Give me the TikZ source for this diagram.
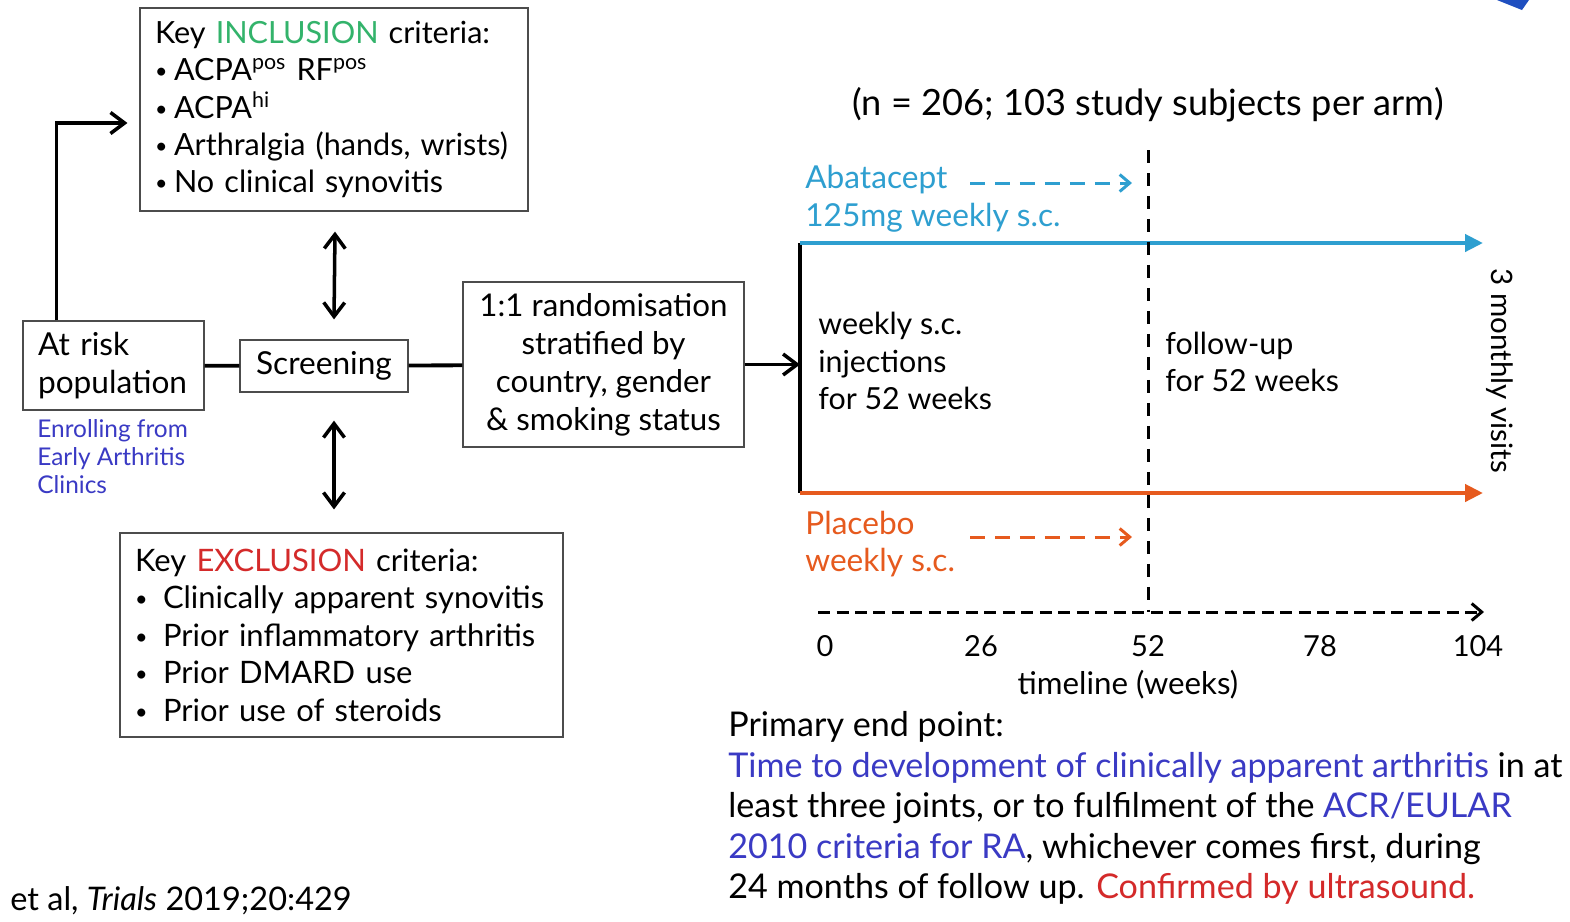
\documentclass[tikz,border=0pt]{standalone}
\usepackage{fontspec}
\setmainfont{Lato}
\usetikzlibrary{arrows.meta}
\definecolor{inclgreen}{HTML}{33B36B}
\definecolor{exclred}{HTML}{D42A2A}
\definecolor{enrolblue}{HTML}{3A3AC4}
\definecolor{abatblue}{HTML}{2E9FD0}
\definecolor{placorange}{HTML}{E65A1E}
\definecolor{logoblue}{HTML}{1F4FC0}
\newcommand{\smallbullet}{\raisebox{0.12ex}{\scalebox{0.7}{\textbullet}}}
\newcommand{\incitem}[1]{\makebox[0.38cm][l]{\smallbullet}#1}
\newcommand{\excitem}[1]{\makebox[0.56cm][l]{\smallbullet}#1}

\begin{document}
\begin{tikzpicture}[x=0.02cm,y=-0.02cm,
	box/.style={draw=black!70,line width=0.7pt,inner ysep=0pt,inner xsep=0.3cm},
	flow/.style={line width=2pt,-{Straight Barb[length=0.28cm,width=0.42cm]}},
	link/.style={line width=2.2pt},
	twoway/.style={line width=2pt,{Straight Barb[length=0.28cm,width=0.42cm]}-{Straight Barb[length=0.28cm,width=0.42cm]}},
	arm/.style={line width=2.4pt,-{Triangle[length=0.36cm,width=0.34cm]}},
	dasharrow/.style={line width=1.7pt,dash pattern=on 0.3cm off 0.2cm,-{Straight Barb[length=0.2cm,width=0.34cm]}},
	txt/.style={inner sep=0pt,font=\fontsize{17.5}{21.5}\selectfont}]
	\useasboundingbox (0,0) rectangle (1570,921);
	\fill[white] (0,0) rectangle (1570,921);
	\fill[logoblue] (1497,0) -- (1529,0) -- (1522,10) -- cycle;

	\node[box,txt,inner xsep=0.3cm,text width=7.16cm,minimum height=4.06cm,align=left,font=\fontsize{17.4}{21.2}\selectfont] (incl) at (334,109.5)
		{Key \textcolor{inclgreen}{INCLUSION} criteria:\\
		\incitem{ACPA\textsuperscript{pos} RF\textsuperscript{pos}}\\
		\incitem{ACPA\textsuperscript{hi}}\\
		\incitem{Arthralgia (hands, wrists)}\\
		\incitem{No clinical synovitis}};
	\node[box,txt,inner xsep=0.3cm,text width=3.02cm,minimum height=1.78cm,align=left,font=\fontsize{18}{21.6}\selectfont] (atrisk) at (113.5,365.5)
		{At risk\\population};
	\node[txt,anchor=north west,align=left,text=enrolblue,font=\fontsize{13.9}{16}\selectfont] (enrol) at (37,419)
		{Enrolling from\\Early Arthritis\\Clinics};
	\node[box,txt,minimum width=3.36cm,minimum height=1.04cm,font=\fontsize{18}{21.6}\selectfont] (screening) at (324,366) {Screening};
	\node[box,txt,minimum width=5.62cm,minimum height=3.3cm,align=center,font=\fontsize{17.8}{21.6}\selectfont] (rand) at (603.5,364.5)
		{1:1 randomisation\\stratified by\\country, gender\\\& smoking status};
	\node[box,txt,inner xsep=0.3cm,text width=8.26cm,minimum height=4.08cm,align=left,font=\fontsize{17.6}{21.3}\selectfont] (excl) at (341.5,635)
		{Key \textcolor{exclred}{EXCLUSION} criteria:\\
		\excitem{Clinically apparent synovitis}\\
		\excitem{Prior inflammatory arthritis}\\
		\excitem{Prior DMARD use}\\
		\excitem{Prior use of steroids}};

	\draw[flow] ([xshift=0.68cm]atrisk.north west) |- ([xshift=-0.24cm,yshift=-0.27cm]incl.west);
	\draw[link] (atrisk) -- (screening);
	\draw[link] (screening) -- (rand);
	\draw[twoway] ([xshift=0.02cm,yshift=-0.4cm]incl.south) -- ([yshift=0.4cm]incl.south |- screening.north);
	\draw[twoway] ([yshift=-0.56cm]incl.south |- screening.south) -- ([yshift=0.46cm]incl.south |- excl.north);

	\coordinate (armtop) at (800,243);
	\coordinate (armbot) at (800,493);
	\coordinate (blueend) at (1483,243);
	\coordinate (orangeend) at (1483,493);
	\coordinate (midtop) at (1148,150);
	\coordinate (midbot) at (1148,612);
	\coordinate (axstart) at (818,612);
	\coordinate (axend) at (1484,612);
	\coordinate (abatfrom) at (970,183);
	\coordinate (placfrom) at (970,537);

	\draw[flow] (rand.east) -- (rand.east -| armtop);
	\draw[line width=2pt] (armtop) -- (armbot);
	\draw[arm,abatblue] (armtop) -- (blueend);
	\draw[arm,placorange] (armbot) -- (orangeend);
	\draw[line width=1.7pt,dash pattern=on 0.26cm off 0.2cm] (midtop) -- (midbot);
	\draw[line width=1.7pt,dash pattern=on 0.24cm off 0.13cm,-{Straight Barb[length=0.2cm,width=0.34cm]}] (axstart) -- (axend);
	\draw[dasharrow,abatblue,shorten >=0.32cm] (abatfrom) -- (abatfrom -| midtop);
	\draw[dasharrow,placorange,shorten >=0.32cm] (placfrom) -- (placfrom -| midtop);

	\node[txt,font=\fontsize{20.6}{24}\selectfont] (nsize) at (1148,105) {(n = 206; 103 study subjects per arm)};
	\node[txt,anchor=west,align=left,text=abatblue,font=\fontsize{18}{21.5}\selectfont] (abat) at (805,199) {Abatacept\\125mg weekly s.c.};
	\node[txt,anchor=west,align=left,text=placorange,font=\fontsize{18}{21.5}\selectfont] (plac) at (805,544) {Placebo\\weekly s.c.};
	\node[txt,anchor=west,align=left,font=\fontsize{17.3}{21.4}\selectfont] (inject) at (818,361) {weekly s.c.\\injections\\for 52 weeks};
	\node[txt,anchor=west,align=left,font=\fontsize{17.3}{21.4}\selectfont] (follow) at (1165,362) {follow-up\\for 52 weeks};
	\node[txt,rotate=-90,font=\fontsize{16.8}{20}\selectfont] (visits) at (1500,371) {3 monthly visits};
	\foreach \wk/\px in {0/825,26/981,52/1148,78/1320,104/1478}
		\node[txt,font=\fontsize{16.5}{20}\selectfont] (t\wk) at (\px,646) {\wk};
	\node[txt,font=\fontsize{17.8}{20}\selectfont] (tlabel) at (1128,685) {timeline (weeks)};

	\node[txt,anchor=north west,align=left,font=\fontsize{19.4}{23.1}\selectfont] (endpoint) at (728,711)
		{Primary end point:\\
		\textcolor{enrolblue}{Time to development of clinically apparent arthritis} in at\\
		least three joints, or to fulfilment of the \textcolor{enrolblue}{ACR/EULAR}\\
		\textcolor{enrolblue}{2010 criteria for RA}, whichever comes first, during\\
		24 months of follow up. \textcolor{exclred}{Confirmed by ultrasound.}};
	\node[txt,anchor=west,font=\fontsize{18.5}{20}\selectfont] (cite) at (10,901) {et al, \textit{Trials} 2019;20:429};
\end{tikzpicture}
\end{document}
